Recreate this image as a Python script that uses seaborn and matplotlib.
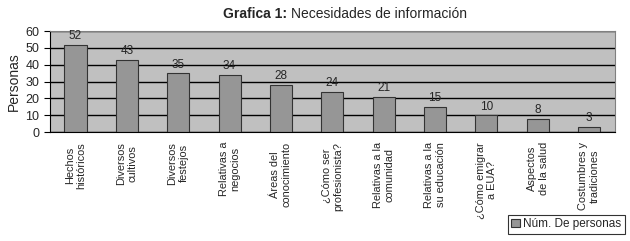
import matplotlib
matplotlib.use("Agg")
import matplotlib.pyplot as plt
import pandas as pd
import seaborn as sns

# Data
categorias = ["Hechos\nhistóricos", "Diversos\ncultivos", "Diversos\nfestejos",
              "Relativas a\nnegocios", "Áreas del\nconocimiento", "¿Cómo ser\nprofesionista?",
              "Relativas a la\ncomunidad", "Relativas a la\nsu educación", "¿Cómo emigrar\na EUA?",
              "Aspectos\nde la salud", "Costumbres y\ntradiciones"]
personas = [52, 43, 35, 34, 28, 24, 21, 15, 10, 8, 3]
y_ticks = [0, 10, 20, 30, 40, 50, 60]

sns.set_style("white")
plt.rcParams["font.family"] = ["Liberation Sans", "DejaVu Sans"]

df = pd.DataFrame({"cat": categorias, "val": personas})

fig = plt.figure(figsize=(6.30, 2.41), dpi=100)
ax = fig.add_axes([0.079, 0.452, 0.897, 0.419])
ax.set_facecolor("#c0c0c0")
ax.set_axisbelow(True)
ax.yaxis.grid(True, color="black", linewidth=1)

sns.barplot(data=df, x="cat", y="val", color="#969696", width=0.43,
            edgecolor="#333333", linewidth=0.8, saturation=1, ax=ax,
            label="Núm. De personas")

# value labels above the bars
for i, v in enumerate(personas):
    ax.text(i, v + 1.5, str(v), ha="center", va="bottom", fontsize=8.5)

ax.set_ylim(0, 60)
ax.set_xlim(-0.5, len(categorias) - 0.5)
ax.set_yticks(y_ticks)
ax.set_yticklabels([str(t) for t in y_ticks], fontsize=9)
ax.set_xticks(range(len(categorias)))
ax.set_xticklabels(categorias, rotation=90, fontsize=7.9, linespacing=1.2,
                   va="top", ha="center", multialignment="center")
ax.set_xticks([i + 0.5 for i in range(-1, len(categorias))], minor=True)
ax.tick_params(axis="x", which="major", length=0, pad=7)
ax.tick_params(axis="x", which="minor", length=4, color="black")
ax.tick_params(axis="y", length=4, color="black", left=True)
ax.set_xlabel("")
ax.set_ylabel("Personas", fontsize=10, labelpad=3)

for s in ["top", "right"]:
    ax.spines[s].set_color("#808080")
for s in ["left", "bottom"]:
    ax.spines[s].set_color("black")

# title: bold part + normal part, centered as a whole
fig.canvas.draw()
r = fig.canvas.get_renderer()
t1 = fig.text(0, 0.94, "Grafica 1: ", ha="left", va="center", fontsize=10, fontweight="bold")
t2 = fig.text(0, 0.94, "Necesidades de información", ha="left", va="center", fontsize=10)
w1 = t1.get_window_extent(r).width / fig.bbox.width
w2 = t2.get_window_extent(r).width / fig.bbox.width
x0 = 345 / 630 - (w1 + w2) / 2
t1.set_x(x0)
t2.set_x(x0 + w1)

leg = ax.legend(loc="lower right", bbox_to_anchor=(0.992, 0.03), bbox_transform=fig.transFigure,
                frameon=True, fancybox=False, edgecolor="black",
                handlelength=0.7, handleheight=0.7, handletextpad=0.3, borderpad=0.3,
                borderaxespad=0, prop={"size": 8.5})
leg.get_frame().set_linewidth(0.8)

fig.savefig("out.png", dpi=100, facecolor="white")
